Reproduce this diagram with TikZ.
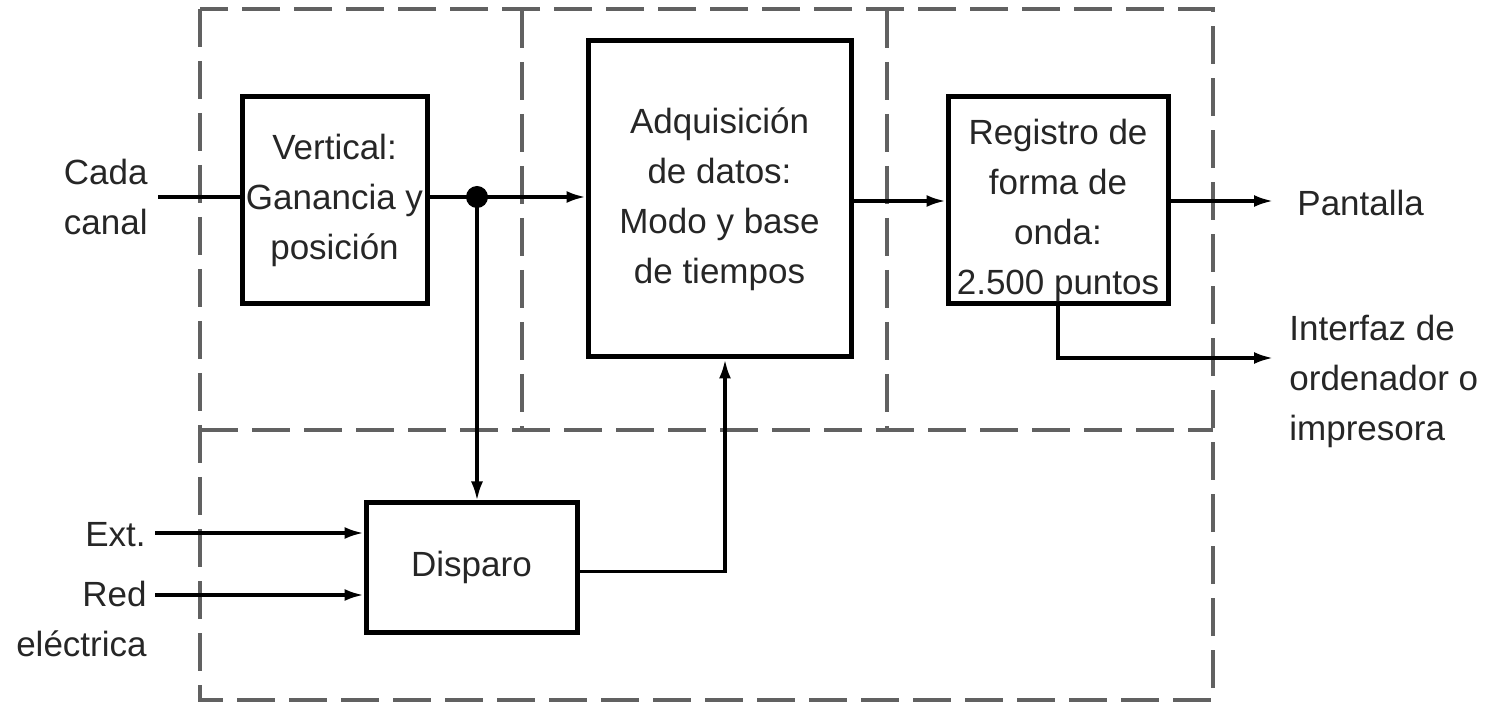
\documentclass[tikz,border=0pt]{standalone}
\usepackage{fontspec}
\setmainfont{Liberation Sans}
\usetikzlibrary{arrows.meta,calc}
\begin{document}
\begin{tikzpicture}[x=0.5pt,y=-0.5pt,
  every node/.style={font=\fontsize{17.5}{25}\selectfont, text=black!85},
  blk/.style={draw=black, line width=2.5pt, inner sep=0pt},
  txt/.style={align=center, inner sep=0pt},
  lbl/.style={inner sep=0pt},
  conn/.style={line width=1.6pt, draw=black},
  arr/.style={conn, -{Latex[length=9.5pt,width=6pt]}},
  dsh/.style={line width=1.8pt, draw=black!62, dash pattern=on 19pt off 7pt}]
\useasboundingbox (0,0) rectangle (1494,705);
% dashed regions
\draw[dsh] (200,9) rectangle (1213,700);
\draw[dsh] (200,430) -- (1213,430);
\draw[dsh] (522,10) -- (522,430);
\draw[dsh] (887,10) -- (887,430);
% blocks
\node[blk, minimum width=92.5pt, minimum height=103.5pt, txt] (vert) at (334.5,200.5) {Vertical:\\Ganancia y\\posición};
\node[blk, minimum width=131.5pt, minimum height=158pt, txt] (adq) at (719.5,199) {Adquisición\\de datos:\\Modo y base\\de tiempos};
\node[blk, minimum width=110pt, minimum height=103.5pt] (reg) at (1058,200.5) {};
\node[txt] (regt) at (1058,210) {Registro de\\forma de\\onda:\\2.500 puntos};
\node[blk, minimum width=105.5pt, minimum height=64.5pt, txt] (disp) at (471.5,567.5) {Disparo};
% labels
\node[lbl, align=right, anchor=east] (cada) at (148,197) {Cada\\canal};
\node[lbl, anchor=east] (ext) at (146,535) {Ext.};
\node[lbl, align=right, anchor=east] (red) at (147,619) {Red\\eléctrica};
\node[lbl, anchor=west] (pant) at (1297,203) {Pantalla};
\node[lbl, align=left, anchor=west] (inter) at (1289,381) {Interfaz de\\ordenador o\\impresora};
% coordinates
\coordinate (cin) at (158,197);
\coordinate (dot) at (477,197);
\coordinate (pout) at (1273,201);
\coordinate (iout) at (1273,358);
\coordinate (extin) at (155,533);
\coordinate (redin) at (155,595);
% connectors
\draw[conn] (cin) -- (cin -| vert.west);
\draw[conn] (vert.east |- dot) -- (dot);
\fill (dot) circle (5.5pt);
\draw[arr] (dot) -- (dot -| adq.west);
\draw[arr] (dot) -- (dot |- disp.north);
\draw[arr] ($(adq.east)+(0,2)$) -- ($(adq.east -| reg.west)+(0,2)$);
\draw[arr] (reg.east |- pout) -- (pout);
\draw[arr] (reg.south) |- (iout);
\draw[arr] (extin) -- (extin -| disp.west);
\draw[arr] (redin) -- (redin -| disp.west);
\draw[arr] ($(disp.east)+(0,4)$) -| ([xshift=2.75pt]adq.south);
\end{tikzpicture}
\end{document}
